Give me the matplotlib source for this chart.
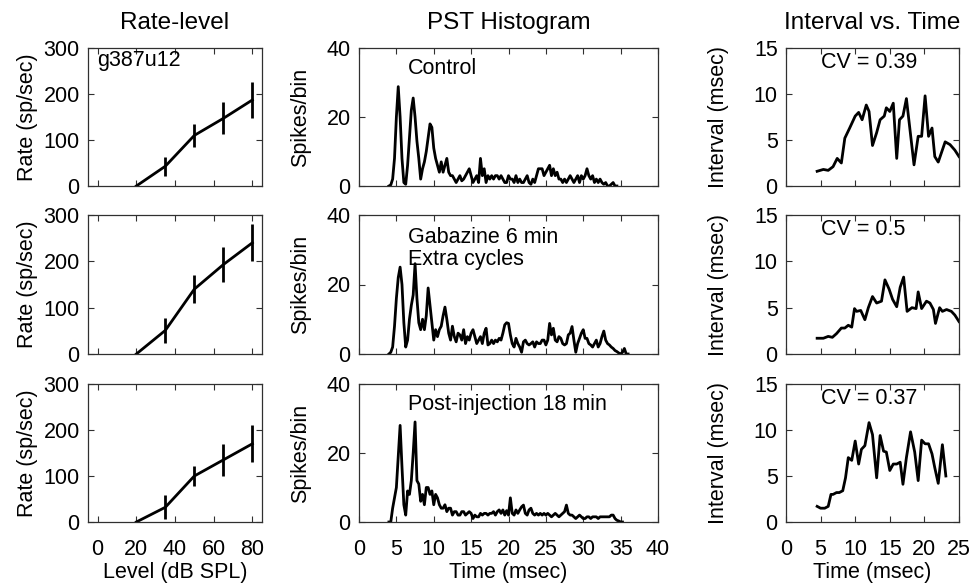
import numpy as np
import matplotlib
matplotlib.use("Agg")
import matplotlib.pyplot as plt

plt.rcParams['font.family'] = ['Liberation Sans', 'DejaVu Sans']

# ---------------- Data ----------------
levels = [20, 35, 50, 65, 80]
rate_control = [0, 43, 110, 147, 187]
rate_control_err = [0, 21, 25, 35, 40]
rate_gabazine = [0, 51, 140, 193, 240]
rate_gabazine_err = [0, 27, 30, 37, 40]
rate_post = [0, 32, 100, 135, 170]
rate_post_err = [0, 26, 22, 35, 40]

pst_bin_start = 4.0   # msec
pst_bin_width = 0.25  # msec
pst_control = [
    0, 0.3, 2, 8, 20, 28.8, 20, 8, 1, 0.5, 6, 14, 22, 25.5, 20, 13,
    8, 2, 5, 7, 10, 14, 18, 17, 11, 8, 6, 4, 7, 4, 6, 8,
    4, 3, 3, 2, 1, 2, 3, 1.5, 2, 3, 4, 5, 3, 1, 2, 3,
    1, 8, 3, 5, 1, 3, 2, 3, 2, 3, 3, 2, 3, 2, 1, 1,
    3, 2, 2, 1, 3, 1, 2, 1, 1, 2, 3, 1, 0.5, 2, 1, 3,
    5, 5, 5, 3, 4, 5, 6, 3, 5, 3, 4, 2, 2, 1, 2, 1,
    2, 3, 2, 1, 2, 3, 1, 3, 2, 3, 5, 3, 2, 3, 1, 2,
    1, 2, 1, 0.5, 1, 0, 0, 0.5, 1, 0, 0,
]
pst_gabazine = [
    0, 0.5, 2, 8, 16, 22, 25, 20, 9, 2, 4, 10, 14, 17, 26, 16,
    9, 7, 10, 7, 11, 19, 14, 9, 4, 7, 5, 7, 8, 11, 13.5, 10,
    6, 4, 8, 5, 3.5, 6, 5.5, 4, 7, 3, 5, 4, 6, 7, 5, 3,
    4, 5, 3, 6, 7.4, 2.6, 3, 4, 3, 4, 3.5, 4.5, 4, 6, 8.4, 9,
    8.8, 5.5, 3, 2, 4.5, 3, 2, 0.5, 3.5, 4, 3, 2.6, 3, 3.5, 2, 3.5,
    3, 3, 4, 4, 2.6, 4, 8.8, 5.5, 7.4, 4, 3.5, 5, 4.5, 3, 2.6, 3,
    5.5, 6, 7.9, 4, 0.5, 3, 4.5, 6, 7, 4.5, 4.5, 3, 2.6, 2, 3, 4,
    2, 3, 5, 6.6, 4, 3, 2.6, 2, 1.6, 1, 0.7, 0.3, 0, 0.5, 1.6, 0, 0,
]
pst_post = [
    0, 0, 4, 7, 10, 19, 28, 16, 5, 2, 9, 8, 12, 20, 29, 12,
    11, 6, 8, 5, 10, 10, 8, 9, 5, 8, 7, 5, 4, 4, 5, 3,
    4, 4, 2, 3, 3, 2, 2, 3, 3, 2, 2.5, 3, 2.5, 1, 2, 1.5,
    1.5, 2.5, 2, 2.5, 2.5, 2, 2.5, 2.5, 3, 2, 3, 3.5, 2.5, 3.5, 2, 3.3,
    2, 7, 2.5, 2, 3.5, 2.5, 3.5, 4.4, 4.9, 2.5, 2, 3.5, 4, 2.5, 2, 2.5,
    2, 2.5, 2, 2.5, 2, 2.5, 2, 1.5, 2, 2.5, 2, 1.5, 2, 2.5, 3, 4.9,
    2.5, 2, 2, 1.5, 1, 1.5, 2, 1.5, 1, 1, 1.5, 1.5, 1, 1.5, 1.5, 1.5,
    1, 1.5, 1.5, 1.5, 1.5, 1.5, 1.5, 2, 2, 1, 0.5, 0.3, 0, 0,
]

int_time_control = [4.5, 5.4, 6.1, 6.8, 7.4, 8.0, 8.5, 9.2, 10.0, 10.5, 11.0, 11.6,
                    12.0, 12.5, 13.1, 13.6, 14.2, 14.5, 15.0, 15.5, 16.0, 16.4, 16.9,
                    17.4, 18.5, 19.1, 19.6, 20.1, 20.6, 21.1, 21.5, 22.0, 23.0, 23.7,
                    24.4, 25.0]
int_val_control = [1.6, 1.8, 1.7, 2.1, 3.0, 2.5, 5.2, 6.3, 7.6, 8.0, 7.2, 8.8,
                   8.1, 4.4, 5.8, 7.2, 7.6, 8.5, 8.1, 9.0, 3.0, 7.2, 7.6,
                   9.5, 2.3, 5.4, 5.4, 9.8, 5.4, 6.3, 3.2, 2.6, 4.8, 4.5,
                   3.9, 3.2]
int_time_gabazine = [4.5, 5.4, 6.1, 6.7, 7.3, 8.0, 8.5, 9.0, 9.5, 9.9, 10.2, 10.8,
                     11.4, 11.9, 12.5, 13.1, 13.8, 14.3, 14.9, 15.4, 16.0, 16.5, 17.0,
                     17.5, 18.2, 18.8, 19.1, 19.6, 20.3, 20.8, 21.3, 21.6, 22.2, 22.6,
                     23.2, 23.9, 24.4, 25.0]
int_val_gabazine = [1.7, 1.7, 1.9, 1.8, 2.2, 2.8, 2.8, 3.1, 2.9, 4.9, 4.6, 4.7,
                    3.7, 5.0, 6.2, 5.5, 5.7, 8.0, 7.0, 5.9, 5.1, 7.2, 8.3,
                    4.6, 5.0, 4.9, 6.7, 4.9, 5.7, 5.5, 4.8, 3.3, 5.0, 4.6,
                    4.8, 4.6, 4.2, 3.5]
int_time_post = [4.5, 5.0, 5.6, 6.1, 6.5, 6.8, 7.3, 7.7, 8.2, 8.6, 9.0, 9.5,
                 10.0, 10.5, 10.9, 11.4, 12.0, 12.5, 13.1, 13.6, 14.1, 14.5, 15.0,
                 15.5, 16.0, 16.5, 16.9, 17.4, 18.0, 18.6, 19.1, 19.6, 20.1, 20.6,
                 21.1, 21.5, 22.0, 22.6, 23.1]
int_val_post = [1.7, 1.5, 1.5, 1.7, 3.0, 3.0, 3.2, 3.2, 3.4, 4.8, 7.0, 6.7,
                8.8, 6.3, 7.9, 8.3, 10.8, 9.5, 4.8, 9.4, 7.7, 7.6, 5.6,
                6.3, 6.3, 6.5, 4.1, 7.0, 9.8, 7.6, 4.5, 8.9, 8.5, 8.5,
                7.4, 5.9, 4.2, 8.4, 5.0]

pst_labels = [["Control"], ["Gabazine 6 min", "Extra cycles"], ["Post-injection 18 min"]]
cv_labels = ["CV = 0.39", "CV = 0.5", "CV = 0.37"]
unit_label = "g387u12"

rates = [rate_control, rate_gabazine, rate_post]
rate_errs = [rate_control_err, rate_gabazine_err, rate_post_err]
psts = [pst_control, pst_gabazine, pst_post]
int_times = [int_time_control, int_time_gabazine, int_time_post]
int_vals = [int_val_control, int_val_gabazine, int_val_post]

# ---------------- Layout ----------------
W, H = 979, 587
fig = plt.figure(figsize=(W / 100, H / 100), dpi=100)

cols = [(88, 262), (359, 658), (786, 959)]
rows = [(48, 186), (215, 354), (384, 522)]

FS = 15.5
TFS = 17.5
LW = 2.0
spine_color = '#303030'
XLAB_Y = -0.29

def make_ax(c, r):
    l, rgt = cols[c]
    t, b = rows[r]
    ax = fig.add_axes([l / W, 1 - b / H, (rgt - l) / W, (b - t) / H])
    for s in ax.spines.values():
        s.set_linewidth(0.9)
        s.set_color(spine_color)
    ax.tick_params(direction='in', top=True, right=True, length=4, width=0.8,
                   labelsize=FS, pad=6, color=spine_color)
    ax.tick_params(axis='x', pad=12)
    return ax

for r in range(3):
    # Rate-level
    ax = make_ax(0, r)
    ax.errorbar(levels, rates[r], yerr=rate_errs[r], color='black', lw=LW,
                elinewidth=LW, capsize=0)
    ax.set_xlim(-5, 85)
    ax.set_ylim(0, 300)
    ax.set_xticks([0, 20, 40, 60, 80])
    ax.set_yticks([0, 100, 200, 300])
    ax.set_ylabel("Rate (sp/sec)", fontsize=FS)
    ax.yaxis.set_label_coords(-0.29, 0.5)
    if r == 0:
        ax.set_title("Rate-level", fontsize=TFS, pad=14)
        ax.text(0.05, 0.985, unit_label, transform=ax.transAxes, fontsize=FS,
                va='top', ha='left')
    if r < 2:
        ax.set_xticklabels([])
    else:
        ax.set_xlabel("Level (dB SPL)", fontsize=FS)
        ax.xaxis.set_label_coords(0.5, XLAB_Y)

    # PST
    ax = make_ax(1, r)
    counts = psts[r]
    times = pst_bin_start + pst_bin_width * np.arange(len(counts))
    ax.plot(times, counts, color='black', lw=LW)
    ax.set_xlim(0, 40)
    ax.set_ylim(0, 40)
    ax.set_xticks(np.arange(0, 41, 5))
    ax.set_yticks([0, 20, 40])
    ax.set_ylabel("Spikes/bin", fontsize=FS)
    ax.yaxis.set_label_coords(-0.16, 0.5)
    if r == 0:
        ax.set_title("PST Histogram", fontsize=TFS, pad=14)
    if len(pst_labels[r]) > 1:
        ys = [0.835, 0.683]
    else:
        ys = [0.855]
    for txt, yy in zip(pst_labels[r], ys):
        ax.text(0.164, yy, txt, transform=ax.transAxes, fontsize=FS,
                va='center', ha='left')
    if r < 2:
        ax.set_xticklabels([])
    else:
        ax.set_xlabel("Time (msec)", fontsize=FS)
        ax.xaxis.set_label_coords(0.5, XLAB_Y)

    # Interval vs time
    ax = make_ax(2, r)
    ax.plot(int_times[r], int_vals[r], color='black', lw=LW)
    ax.set_xlim(0, 25)
    ax.set_ylim(0, 15)
    ax.set_xticks([0, 5, 10, 15, 20, 25])
    ax.set_yticks([0, 5, 10, 15])
    ax.set_ylabel("Interval (msec)", fontsize=FS)
    ax.yaxis.set_label_coords(-0.33, 0.5)
    if r == 0:
        ax.set_title("Interval vs. Time", fontsize=TFS, pad=14)
    ax.text(0.2, 0.895, cv_labels[r], transform=ax.transAxes, fontsize=FS,
            va='center', ha='left')
    if r < 2:
        ax.set_xticklabels([])
    else:
        ax.set_xlabel("Time (msec)", fontsize=FS)
        ax.xaxis.set_label_coords(0.5, XLAB_Y)

fig.savefig("out.png", dpi=100)
